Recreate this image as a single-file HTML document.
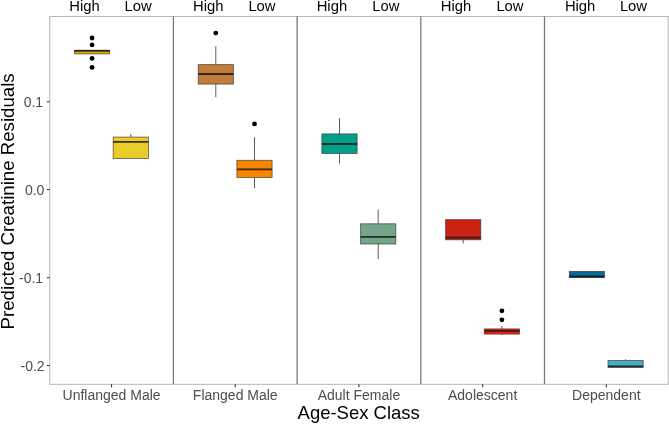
<!DOCTYPE html><html><head><meta charset="utf-8"><style>html,body{margin:0;padding:0;background:#fff;}svg{display:block;will-change:transform;}text{font-family:"Liberation Sans",sans-serif;}</style></head><body>
<svg width="669" height="424" viewBox="0 0 669 424">
<rect x="0" y="0" width="669" height="424" fill="#fff"/>
<rect x="49.7" y="16.5" width="618.5" height="367.8" fill="none" stroke="#b8b8b8" stroke-width="1.05"/>
<line x1="173.40" y1="16.5" x2="173.40" y2="384.3" stroke="#7a7a7a" stroke-width="1.3"/>
<line x1="297.10" y1="16.5" x2="297.10" y2="384.3" stroke="#7a7a7a" stroke-width="1.3"/>
<line x1="420.80" y1="16.5" x2="420.80" y2="384.3" stroke="#7a7a7a" stroke-width="1.3"/>
<line x1="544.50" y1="16.5" x2="544.50" y2="384.3" stroke="#7a7a7a" stroke-width="1.3"/>
<line x1="46.9" y1="101.8" x2="49.7" y2="101.8" stroke="#333" stroke-width="1.1"/>
<text x="43.1" y="107.0" font-size="14.0" fill="#4d4d4d" text-anchor="end">0.1</text>
<line x1="46.9" y1="189.6" x2="49.7" y2="189.6" stroke="#333" stroke-width="1.1"/>
<text x="44.4" y="194.8" font-size="14.0" fill="#4d4d4d" text-anchor="end">0.0</text>
<line x1="46.9" y1="277.7" x2="49.7" y2="277.7" stroke="#333" stroke-width="1.1"/>
<text x="43.1" y="282.9" font-size="14.0" fill="#4d4d4d" text-anchor="end">-0.1</text>
<line x1="46.9" y1="365.6" x2="49.7" y2="365.6" stroke="#333" stroke-width="1.1"/>
<text x="44.6" y="370.8" font-size="14.0" fill="#4d4d4d" text-anchor="end">-0.2</text>
<line x1="111.55" y1="384.3" x2="111.55" y2="387.3" stroke="#333" stroke-width="1.1"/>
<text x="111.55" y="399.7" font-size="14.0" fill="#4d4d4d" text-anchor="middle">Unflanged Male</text>
<text x="69.29" y="10.9" font-size="14.8" fill="#000">High</text>
<text x="124.59" y="10.9" font-size="14.8" fill="#000">Low</text>
<line x1="235.25" y1="384.3" x2="235.25" y2="387.3" stroke="#333" stroke-width="1.1"/>
<text x="235.25" y="399.7" font-size="14.0" fill="#4d4d4d" text-anchor="middle">Flanged Male</text>
<text x="193.09" y="10.9" font-size="14.8" fill="#000">High</text>
<text x="248.39" y="10.9" font-size="14.8" fill="#000">Low</text>
<line x1="358.95" y1="384.3" x2="358.95" y2="387.3" stroke="#333" stroke-width="1.1"/>
<text x="358.95" y="399.7" font-size="14.0" fill="#4d4d4d" text-anchor="middle">Adult Female</text>
<text x="316.69" y="10.9" font-size="14.8" fill="#000">High</text>
<text x="372.29" y="10.9" font-size="14.8" fill="#000">Low</text>
<line x1="482.65" y1="384.3" x2="482.65" y2="387.3" stroke="#333" stroke-width="1.1"/>
<text x="482.65" y="399.7" font-size="14.0" fill="#4d4d4d" text-anchor="middle">Adolescent</text>
<text x="440.79" y="10.9" font-size="14.8" fill="#000">High</text>
<text x="496.39" y="10.9" font-size="14.8" fill="#000">Low</text>
<line x1="606.35" y1="384.3" x2="606.35" y2="387.3" stroke="#333" stroke-width="1.1"/>
<text x="606.35" y="399.7" font-size="14.0" fill="#4d4d4d" text-anchor="middle">Dependent</text>
<text x="564.89" y="10.9" font-size="14.8" fill="#000">High</text>
<text x="619.89" y="10.9" font-size="14.8" fill="#000">Low</text>
<rect x="74.50" y="50.2" width="35.20" height="3.70" fill="#E1AF00" stroke="#333" stroke-opacity="0.75" stroke-width="0.85"/>
<line x1="74.50" y1="50.9" x2="109.70" y2="50.9" stroke="#1a1a1a" stroke-opacity="0.88" stroke-width="1.8"/>
<circle cx="92.10" cy="38" r="2.4" fill="#000"/>
<circle cx="92.10" cy="44.9" r="2.4" fill="#000"/>
<circle cx="92.10" cy="58.4" r="2.4" fill="#000"/>
<circle cx="92.10" cy="67.4" r="2.4" fill="#000"/>
<line x1="130.80" y1="134" x2="130.80" y2="137.1" stroke="#4a4a4a" stroke-width="0.9"/>
<rect x="113.20" y="137.1" width="35.20" height="21.40" fill="#EBCC2A" stroke="#333" stroke-opacity="0.75" stroke-width="0.85"/>
<line x1="113.20" y1="141.8" x2="148.40" y2="141.8" stroke="#1a1a1a" stroke-opacity="0.88" stroke-width="1.8"/>
<line x1="215.80" y1="46.2" x2="215.80" y2="64.6" stroke="#4a4a4a" stroke-width="0.9"/>
<line x1="215.80" y1="84.1" x2="215.80" y2="97.2" stroke="#4a4a4a" stroke-width="0.9"/>
<rect x="198.20" y="64.6" width="35.20" height="19.50" fill="#C27D38" stroke="#333" stroke-opacity="0.75" stroke-width="0.85"/>
<line x1="198.20" y1="74.0" x2="233.40" y2="74.0" stroke="#1a1a1a" stroke-opacity="0.88" stroke-width="1.8"/>
<circle cx="215.80" cy="33.1" r="2.4" fill="#000"/>
<line x1="254.50" y1="137.2" x2="254.50" y2="160.3" stroke="#4a4a4a" stroke-width="0.9"/>
<line x1="254.50" y1="177.5" x2="254.50" y2="188" stroke="#4a4a4a" stroke-width="0.9"/>
<rect x="236.90" y="160.3" width="35.20" height="17.20" fill="#F98400" stroke="#333" stroke-opacity="0.75" stroke-width="0.85"/>
<line x1="236.90" y1="169.4" x2="272.10" y2="169.4" stroke="#1a1a1a" stroke-opacity="0.88" stroke-width="1.8"/>
<circle cx="254.50" cy="123.9" r="2.4" fill="#000"/>
<line x1="339.50" y1="118.2" x2="339.50" y2="133.9" stroke="#4a4a4a" stroke-width="0.9"/>
<line x1="339.50" y1="153.5" x2="339.50" y2="163.5" stroke="#4a4a4a" stroke-width="0.9"/>
<rect x="321.90" y="133.9" width="35.20" height="19.60" fill="#00A08A" stroke="#333" stroke-opacity="0.75" stroke-width="0.85"/>
<line x1="321.90" y1="144.0" x2="357.10" y2="144.0" stroke="#1a1a1a" stroke-opacity="0.88" stroke-width="1.8"/>
<line x1="378.20" y1="209.5" x2="378.20" y2="223.8" stroke="#4a4a4a" stroke-width="0.9"/>
<line x1="378.20" y1="244.0" x2="378.20" y2="259" stroke="#4a4a4a" stroke-width="0.9"/>
<rect x="360.60" y="223.8" width="35.20" height="20.20" fill="#73A689" stroke="#333" stroke-opacity="0.75" stroke-width="0.85"/>
<line x1="360.60" y1="236.9" x2="395.80" y2="236.9" stroke="#1a1a1a" stroke-opacity="0.88" stroke-width="1.8"/>
<line x1="463.20" y1="239.8" x2="463.20" y2="243.5" stroke="#4a4a4a" stroke-width="0.9"/>
<rect x="445.60" y="219.6" width="35.20" height="20.20" fill="#CB2314" stroke="#333" stroke-opacity="0.75" stroke-width="0.85"/>
<line x1="445.60" y1="237.7" x2="480.80" y2="237.7" stroke="#1a1a1a" stroke-opacity="0.88" stroke-width="1.8"/>
<line x1="501.90" y1="326" x2="501.90" y2="328.9" stroke="#4a4a4a" stroke-width="0.9"/>
<line x1="501.90" y1="334.1" x2="501.90" y2="335" stroke="#4a4a4a" stroke-width="0.9"/>
<rect x="484.30" y="328.9" width="35.20" height="5.20" fill="#F8200A" stroke="#333" stroke-opacity="0.75" stroke-width="0.85"/>
<line x1="484.30" y1="330.9" x2="519.50" y2="330.9" stroke="#1a1a1a" stroke-opacity="0.88" stroke-width="1.8"/>
<circle cx="501.90" cy="310.8" r="2.4" fill="#000"/>
<circle cx="501.90" cy="319.8" r="2.4" fill="#000"/>
<rect x="569.30" y="271.4" width="35.20" height="6.20" fill="#046C9A" stroke="#333" stroke-opacity="0.75" stroke-width="0.85"/>
<line x1="569.30" y1="276.5" x2="604.50" y2="276.5" stroke="#1a1a1a" stroke-opacity="0.88" stroke-width="1.8"/>
<line x1="625.60" y1="359.2" x2="625.60" y2="360.5" stroke="#4a4a4a" stroke-width="0.9"/>
<rect x="608.00" y="360.5" width="35.20" height="6.90" fill="#44ABC8" stroke="#333" stroke-opacity="0.75" stroke-width="0.85"/>
<line x1="608.00" y1="366.3" x2="643.20" y2="366.3" stroke="#1a1a1a" stroke-opacity="0.88" stroke-width="1.8"/>
<text x="297.56" y="418.6" font-size="18.5" fill="#000" textLength="122.3" lengthAdjust="spacingAndGlyphs">Age-Sex Class</text>
<text transform="translate(13.7,329.39) rotate(-90)" x="0" y="0" font-size="18.2" fill="#000" textLength="256.0" lengthAdjust="spacingAndGlyphs">Predicted Creatinine Residuals</text>
</svg></body></html>
